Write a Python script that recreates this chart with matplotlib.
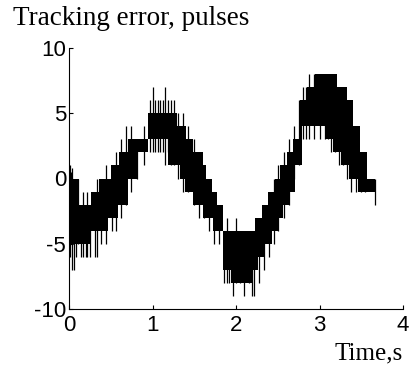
import numpy as np
import matplotlib.pyplot as plt

plt.rcParams['axes.unicode_minus'] = False

# upper edge of the dense band (time where the level starts, level in pulses)
top_t = [0.00, 0.12, 0.26, 0.36, 0.50, 0.60, 0.71, 0.95, 1.29, 1.40, 1.48,
         1.60, 1.64, 1.71, 1.77, 1.84, 2.23, 2.31, 2.38, 2.47, 2.53, 2.61,
         2.68, 2.77, 2.85, 2.95, 3.21, 3.33, 3.40, 3.49, 3.57]
top_v = [0, -2, -1, 0, 1, 2, 3, 5, 4, 3, 2,
         1, 0, -1, -2, -4, -3, -2, -1, 0, 1, 2,
         3, 6, 7, 8, 7, 6, 4, 2, 0]

# lower edge of the dense band
low_t = [0.00, 0.26, 0.47, 0.59, 0.71, 0.83, 0.95, 1.19, 1.33, 1.39, 1.48,
         1.60, 1.72, 1.84, 1.94, 2.20, 2.26, 2.35, 2.43, 2.50, 2.56, 2.63,
         2.71, 2.79, 3.07, 3.16, 3.26, 3.35, 3.46]
low_v = [-5, -4, -3, -2, 0, 2, 3, 1, 0, -1, -2,
         -3, -4, -7, -8, -7, -6, -5, -4, -3, -2, -1,
         1, 4, 3, 2, 1, 0, -1]

t_end = 3.67

# single spikes sticking out of the band
spike_t = [0.012, 0.024, 0.036, 0.048, 0.060, 0.084, 0.108,
           0.14, 0.17, 0.20, 0.22, 0.25, 0.31, 0.34, 0.38, 0.44, 0.52, 0.56,
           0.62, 0.68, 0.74, 0.82, 0.90,
           0.97, 1.00, 1.03, 1.06, 1.09, 1.12, 1.15, 1.18, 1.22, 1.26, 1.31,
           1.36, 1.43, 1.50, 1.56, 1.62, 1.68, 1.74, 1.80,
           1.86, 1.89, 1.92, 1.96, 2.00, 2.05, 2.10, 2.15, 2.19, 2.22, 2.27,
           2.33, 2.40, 2.45, 2.50, 2.57, 2.64, 2.70,
           2.76, 2.80, 2.84, 2.88, 2.93, 3.00, 3.06, 3.10, 3.14, 3.19, 3.23,
           3.28, 3.33, 3.38, 3.44, 3.50, 3.55, 3.66]
spike_lo = [-6, -3, -7, -5, -7, -6, -5,
            -6, -6, -6, -6, -6, -6, -6, -5, -5, -4, -4,
            -3, -2, -1, 0, 1,
            2, 2, 2, 2, 2, 2, 1, 2, 1, 1, 0,
            -1, -1, -2, -3, -3, -4, -5, -5,
            -8, -8, -8, -9, -8, -8, -9, -8, -9, -9, -8,
            -7, -6, -5, -4, -3, -2, 0,
            1, 3, 3, 3, 3, 3, 3, 3, 2, 2, 1,
            1, 0, -1, -1, -1, -1, -2]
spike_hi = [1, 0.5, 0.8, -1, 0, -1, 0,
            -2, -1, -2, -1, -2, -1, 0, 0, 1, 1, 2,
            3, 4, 4, 3, 4,
            6, 7, 6, 6, 6, 6, 7, 6, 6, 6, 5,
            5, 4, 3, 2, 1, 0, -1, -2,
            -4, -3, -4, -4, -3, -4, -4, -4, -4, -4, -3,
            -2, -1, 0, 1, 2, 3, 4,
            6, 7, 7, 8, 8, 8, 8, 8, 8, 8, 7,
            7, 6, 5, 4, 2, 1, 0]

fig = plt.figure(figsize=(4.09, 3.66), dpi=100)
ax = fig.add_axes([69 / 409, 57 / 366, 334 / 409, 261 / 366])

# band drawn as step functions on a common time grid
grid = np.union1d(top_t, low_t)
grid = np.append(grid, t_end)
hi = np.array(top_v)[np.searchsorted(top_t, grid, side='right') - 1]
lo = np.array(low_v)[np.searchsorted(low_t, grid, side='right') - 1]
ax.fill_between(grid, lo, hi, step='post', color='black', lw=0)
ax.vlines(spike_t, spike_lo, spike_hi, color='black', lw=0.9)

ax.set_xlim(0, 4)
ax.set_ylim(-10, 10)
ax.set_xticks([0, 1, 2, 3, 4])
ax.set_yticks([-10, -5, 0, 5, 10])
for s in ['top', 'right']:
    ax.spines[s].set_visible(False)
for s in ['left', 'bottom']:
    ax.spines[s].set_linewidth(0.8)
ax.tick_params(direction='in', length=3, width=0.8, labelsize=16)
ax.tick_params(axis='x', pad=4)
ax.tick_params(axis='y', pad=2)
for lab in ax.get_xticklabels() + ax.get_yticklabels():
    lab.set_family('Liberation Sans')

fig.text(13 / 409, 1 - 25 / 366, 'Tracking error, pulses', family='Liberation Serif',
         fontsize=19.5, ha='left', va='baseline')
fig.text(403 / 409, 1 - 359 / 366, 'Time,s', family='Liberation Serif',
         fontsize=18, ha='right', va='baseline')

fig.savefig('out.png', dpi=100)
